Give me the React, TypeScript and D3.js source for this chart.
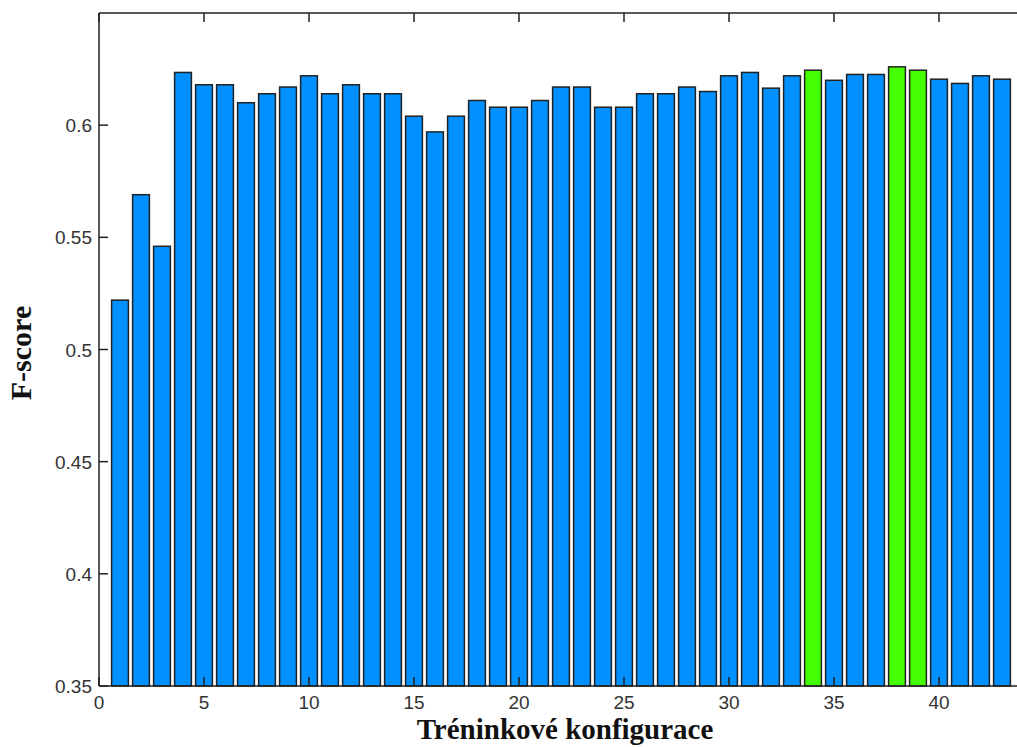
import { useEffect, useRef } from 'react';
import * as d3 from 'd3';

// F-score for each training configuration (1..43)
const configs = d3.range(1, 44);
const fscores = [
  0.522, 0.569, 0.546, 0.6235, 0.618, 0.618, 0.610, 0.614, 0.617, 0.622,
  0.614, 0.618, 0.614, 0.614, 0.604, 0.597, 0.604, 0.611, 0.608, 0.608,
  0.611, 0.617, 0.617, 0.608, 0.608, 0.614, 0.614, 0.617, 0.615, 0.622,
  0.6235, 0.6165, 0.622, 0.6245, 0.620, 0.6226, 0.6226, 0.626, 0.6245, 0.6205,
  0.6186, 0.622, 0.6205,
];
const highlighted = [34, 38, 39];
const xTicks = [0, 5, 10, 15, 20, 25, 30, 35, 40];
const yTicks = [0.35, 0.4, 0.45, 0.5, 0.55, 0.6];

const W = 1017;
const H = 747;
const margin = { left: 99, top: 13, bottom: 61 };

export default function App() {
  const svgRef = useRef<SVGSVGElement | null>(null);

  useEffect(() => {
    const svg = d3.select(svgRef.current);
    svg.selectAll('*').remove();

    const bottom = H - margin.bottom;
    const x = d3.scaleLinear().domain([0, 44]).range([margin.left, margin.left + 44 * 21]);
    const y = d3.scaleLinear().domain([0.35, 0.65]).range([bottom, margin.top]);
    const bw = (x(1) - x(0)) * 0.8;

    const data = configs.map((c, i) => ({ c, v: fscores[i] }));

    svg.append('rect').attr('width', W).attr('height', H).attr('fill', '#fff');

    // bars
    svg.append('g')
      .selectAll('rect')
      .data(data)
      .enter()
      .append('rect')
      .attr('x', d => x(d.c) - bw / 2)
      .attr('y', d => y(d.v))
      .attr('width', bw)
      .attr('height', d => y(0.35) - y(d.v))
      .attr('fill', d => (highlighted.includes(d.c) ? '#44ff00' : '#0090ff'))
      .attr('stroke', '#222')
      .attr('stroke-width', 1.5);

    const frame = svg.append('g').attr('stroke', '#222').attr('stroke-width', 1.5).attr('fill', 'none');
    frame.append('line').attr('x1', x(0)).attr('x2', W + 10).attr('y1', margin.top).attr('y2', margin.top);
    frame.append('line').attr('x1', x(0)).attr('x2', W + 10).attr('y1', bottom).attr('y2', bottom);
    frame.append('line').attr('x1', x(0)).attr('x2', x(0)).attr('y1', margin.top).attr('y2', bottom);

    // x ticks (inward, top and bottom)
    xTicks.forEach(t => {
      frame.append('line').attr('x1', x(t)).attr('x2', x(t)).attr('y1', margin.top).attr('y2', margin.top + 9);
      frame.append('line').attr('x1', x(t)).attr('x2', x(t)).attr('y1', bottom).attr('y2', bottom - 9);
    });
    yTicks.forEach(t => {
      frame.append('line').attr('x1', x(0)).attr('x2', x(0) + 9).attr('y1', y(t)).attr('y2', y(t));
    });

    const tickFont = '"Liberation Sans", Arial, sans-serif';
    svg.append('g')
      .selectAll('text')
      .data(xTicks)
      .enter()
      .append('text')
      .attr('x', d => x(d))
      .attr('y', bottom + 23)
      .attr('text-anchor', 'middle')
      .attr('font-family', tickFont)
      .attr('font-size', 19)
      .attr('fill', '#333')
      .text(d => d);

    svg.append('g')
      .selectAll('text')
      .data(yTicks)
      .enter()
      .append('text')
      .attr('x', x(0) - 7)
      .attr('y', d => y(d) + 7)
      .attr('text-anchor', 'end')
      .attr('font-family', tickFont)
      .attr('font-size', 19)
      .attr('fill', '#333')
      .text(d => d3.format('')(d));

    const labelFont = '"Liberation Serif", "DejaVu Serif", serif';
    svg.append('text')
      .attr('x', 565)
      .attr('y', 739)
      .attr('text-anchor', 'middle')
      .attr('font-family', labelFont)
      .attr('font-weight', 'bold')
      .attr('font-size', 29)
      .attr('fill', '#111')
      .text('Tréninkové konfigurace');

    svg.append('text')
      .attr('transform', 'translate(31,353) rotate(-90)')
      .attr('text-anchor', 'middle')
      .attr('font-family', labelFont)
      .attr('font-weight', 'bold')
      .attr('font-size', 30)
      .attr('fill', '#111')
      .text('F-score');
  }, []);

  return (
    <svg
      ref={svgRef}
      width={W}
      height={H}
      style={{ position: 'absolute', left: 0, top: 0, display: 'block' }}
    />
  );
}
